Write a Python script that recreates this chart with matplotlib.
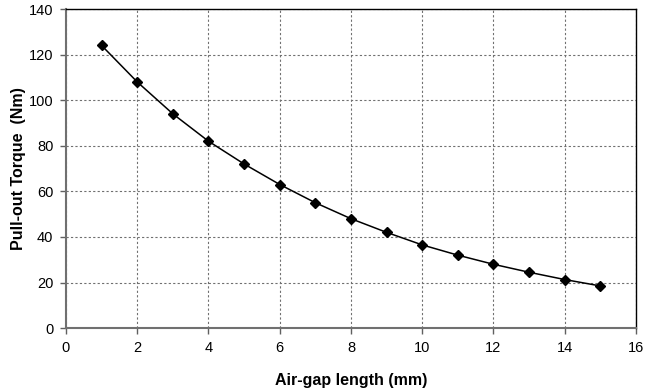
import matplotlib.pyplot as plt

plt.rcParams['font.family'] = ['Liberation Sans', 'DejaVu Sans']

# air-gap length (mm) and pull-out torque (Nm)
gap_mm = [1, 2, 3, 4, 5, 6, 7, 8, 9, 10, 11, 12, 13, 14, 15]
torque_nm = [124, 108, 94, 82, 72, 63, 55, 48, 42, 36.5, 32, 28, 24.5, 21.3, 18.5]

x_ticks = [0, 2, 4, 6, 8, 10, 12, 14, 16]
y_ticks = [0, 20, 40, 60, 80, 100, 120, 140]

fig = plt.figure(figsize=(6.47, 3.92), dpi=100)
ax = fig.add_axes([0.102, 0.163, 0.881, 0.814])

ax.plot(gap_mm, torque_nm, color='black', lw=1.1, marker='D', markersize=5.5,
        markerfacecolor='black', markeredgecolor='black', zorder=3)

ax.set_xlim(0, 16)
ax.set_ylim(0, 140)
ax.set_xticks(x_ticks)
ax.set_yticks(y_ticks)
ax.grid(True, color='#707070', linestyle=(0, (2, 2)), linewidth=0.8)
ax.tick_params(direction='out', length=4, width=1, color='#606060', labelsize=10.5, pad=5)

for side in ['left', 'bottom']:
    ax.spines[side].set_color('#707070')
    ax.spines[side].set_linewidth(1.5)
for side in ['top', 'right']:
    ax.spines[side].set_color('black')
    ax.spines[side].set_linewidth(1)

ax.set_xlabel('Air-gap length (mm)', fontsize=11.5, fontweight='bold', labelpad=13)
ax.set_ylabel('Pull-out Torque  (Nm)', fontsize=11.5, fontweight='bold', labelpad=2)

fig.savefig('out.png', dpi=100)
